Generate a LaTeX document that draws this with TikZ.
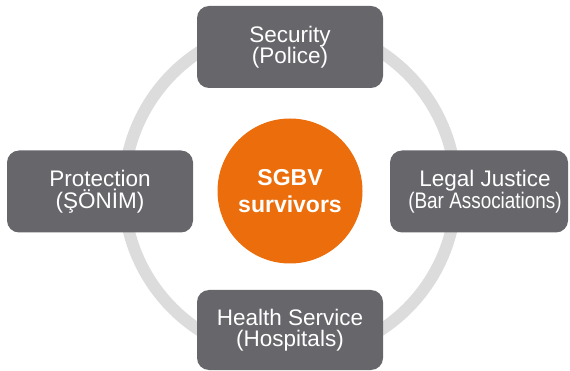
\documentclass[tikz,border=0pt]{standalone}
\usepackage{fontspec}
\setmainfont{Liberation Sans}
\definecolor{ringgray}{HTML}{DCDCDC}
\definecolor{boxgray}{HTML}{67666B}
\definecolor{hub}{HTML}{EC6D0B}
\begin{document}
\begin{tikzpicture}[
    x=1pt, y=-1pt,
    actor/.style={rectangle, rounded corners=12pt, fill=boxgray, text=white, inner sep=0pt,
        minimum width=186pt, minimum height=82pt, align=center,
        font=\fontsize{22.5}{21.5}\selectfont},
    core/.style={circle, fill=hub, text=white, inner sep=0pt, minimum size=145pt, align=center,
        font=\fontsize{23}{27}\selectfont\bfseries},
    ring/.style={draw=ringgray, line width=12pt}
]
\useasboundingbox (0,0) rectangle (570,371);

% Ring behind the actors
\coordinate (mid) at (290,191);
\draw[ring] (mid) circle (166pt);

% Actors
\node[actor] (security) at (290,47) {Security\\(Police)};
\node[actor] (protection) at (100,191.5) {Protection\\(ŞÖNİM)};
\node[actor, minimum width=178pt] (legal) at (479,191.5)
    {\hspace*{12pt}Legal Justice\\\hspace*{12pt}\scalebox{0.84}[1]{(Bar Associations)}};
\node[actor, minimum height=80pt] (health) at (290,330) {Health Service\\(Hospitals)};

% Survivors in the middle
\node[core] (survivors) at (mid) {SGBV\\survivors};

\end{tikzpicture}
\end{document}
